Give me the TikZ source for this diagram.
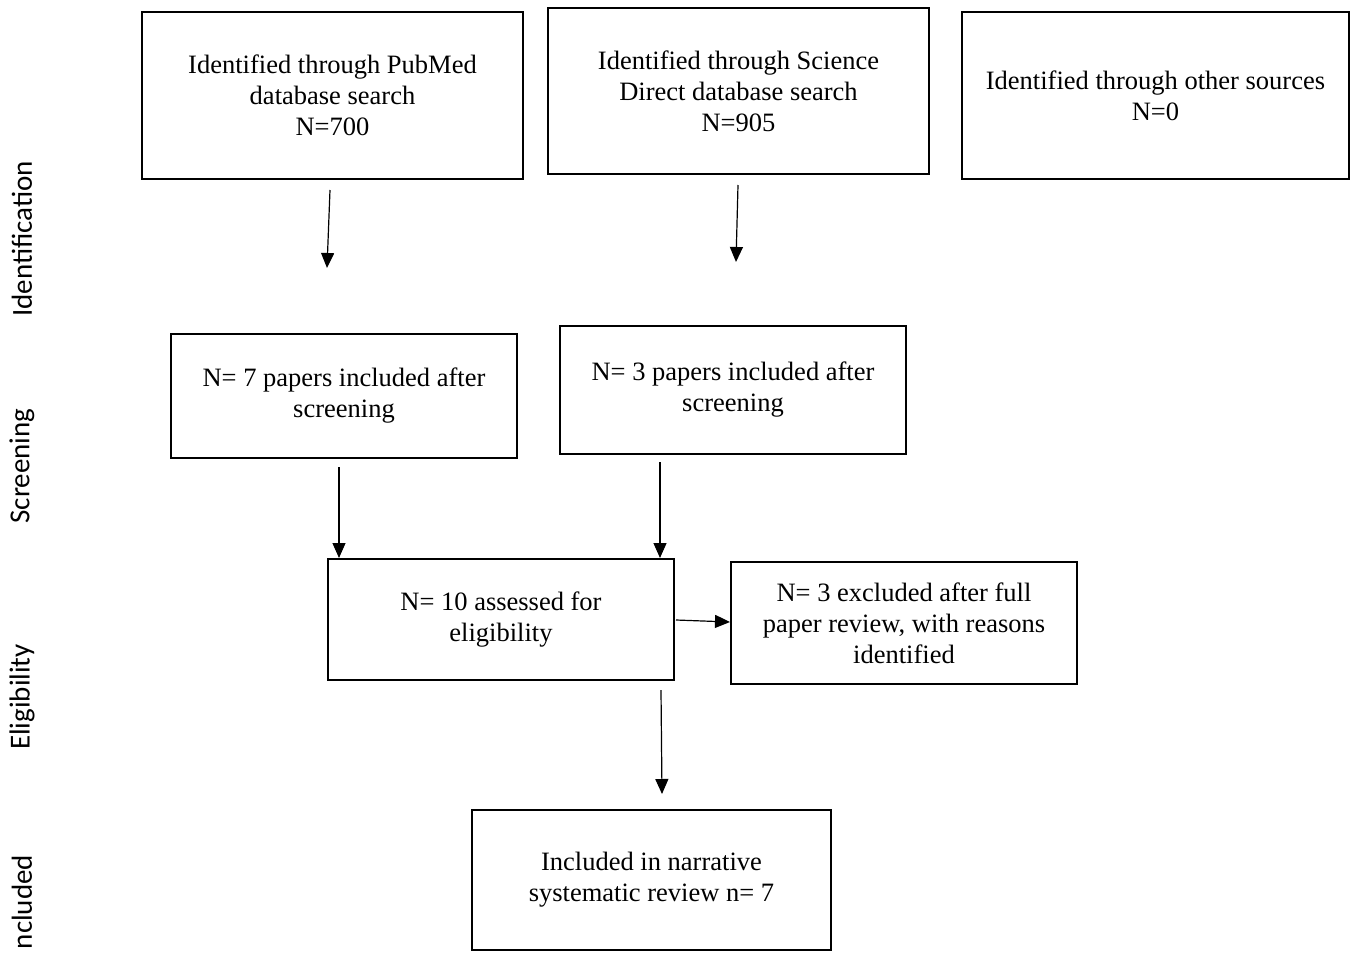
\documentclass[tikz,border=0pt]{standalone}
\usepackage{fontspec}
\setmainfont{Liberation Serif}
\newfontfamily\sidefont{Carlito}
\usetikzlibrary{arrows.meta}
\begin{document}
\begin{tikzpicture}[x=1pt,y=-1pt,
  box/.style={draw,line width=2pt,align=center,inner sep=0pt,
    font=\fontsize{26.5}{31}\selectfont},
  arr/.style={line width=1.2pt,-{Triangle[length=15pt,width=13pt]}},
  side/.style={rotate=90,font=\sidefont\fontsize{29}{30}\selectfont}]
\useasboundingbox (0,0) rectangle (1353,954);
\fill[white] (0,0) rectangle (1353,954);
% boxes
\node[box,minimum width=381pt,minimum height=167pt] (pub) at (332.5,95.5)
  {Identified through PubMed\\database search\\N=700};
\node[box,minimum width=381pt,minimum height=166pt] (sci) at (738.5,91)
  {Identified through Science\\Direct database search\\N=905};
\node[box,minimum width=387pt,minimum height=167pt] (oth) at (1155.5,95.5)
  {Identified through other sources\\N=0};
\node[box,minimum width=346pt,minimum height=124pt] (s1) at (344,396)
  {N= 7 papers included after\\screening};
\node[box,minimum width=346pt,minimum height=128pt] (s2) at (733,390)
  {N= 3 papers included after\\screening};
\node[box,minimum width=346pt,minimum height=121pt] (el) at (501,619.5)
  {N= 10 assessed for\\eligibility};
\node[box,minimum width=346pt,minimum height=122pt] (ex) at (904,623)
  {N= 3 excluded after full\\paper review, with reasons\\identified};
\node[box,minimum width=359pt,minimum height=140pt] (inc) at (651.5,880)
  {Included in narrative\\systematic review n= 7};
% side labels
\node[side] (l1) at (22,239) {Identification};
\node[side] (l2) at (22,466) {Screening};
\node[side] (l3) at (22,697) {Eligibility};
\node[side] (l4) at (22,902) {ncluded};
% connector coordinates
\coordinate (a1s) at (330,190);
\coordinate (a1e) at (327,268);
\coordinate (a2s) at (738,185);
\coordinate (a2e) at (736,262);
\coordinate (a3s) at (339,467);
\coordinate (a4s) at (660,462);
\coordinate (a5s) at (676,620);
\coordinate (a6s) at (661,690);
\coordinate (a6e) at (662,794);
\draw[arr] (a1s) -- (a1e);
\draw[arr] (a2s) -- (a2e);
\draw[arr] (a3s) -- (a3s |- el.north);
\draw[arr] (a4s) -- (a4s |- el.north);
\draw[arr] (a5s) -- (ex.west |- 0,622);
\draw[arr] (a6s) -- (a6e);
\end{tikzpicture}
\end{document}
